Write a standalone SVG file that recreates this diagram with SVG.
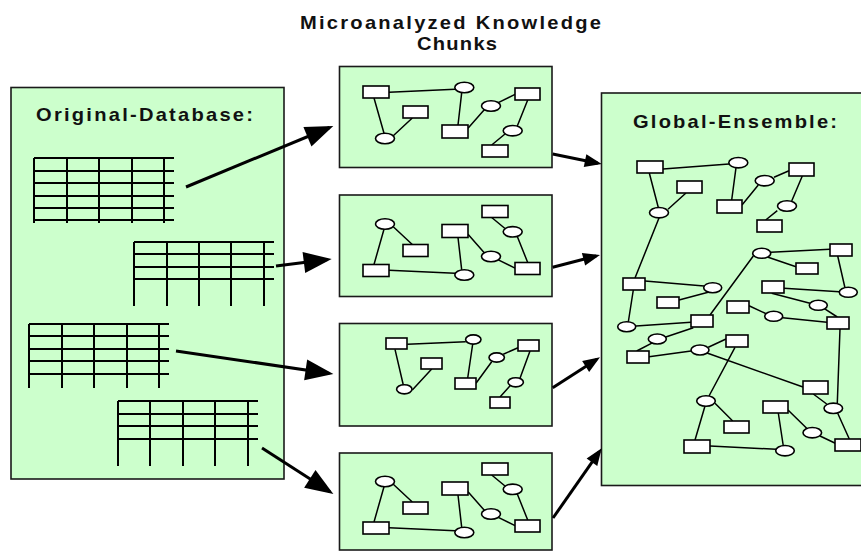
<svg xmlns="http://www.w3.org/2000/svg" xmlns:xlink="http://www.w3.org/1999/xlink" width="861" height="552" viewBox="0 0 861 552">
  <style>
    .box { fill: #ccffcc; stroke: #1a1a1a; stroke-width: 1.6; }
    .title { font-family: "Liberation Sans", Arial, sans-serif; font-weight: bold; font-size: 17.5px; fill: #111; }
    .grid { stroke: #000; stroke-width: 2; fill: none; }
    .edge { stroke: #000; stroke-width: 1.5; fill: none; }
    .rn { fill: #fff; stroke: #000; stroke-width: 1.6; }
    .en { fill: #fff; stroke: #000; stroke-width: 1.6; }
    .arrow { stroke: #000; stroke-width: 3; fill: none; }
  </style>
  <defs>
    <marker id="headBig" markerUnits="userSpaceOnUse" markerWidth="30" markerHeight="24" refX="24" refY="10.5" orient="auto" overflow="visible">
      <path d="M0,0 L28,10.5 L0,21 z" fill="#000"/>
    </marker>
    <marker id="headSmall" markerUnits="userSpaceOnUse" markerWidth="20" markerHeight="16" refX="13" refY="6.5" orient="auto" overflow="visible">
      <path d="M0,0 L17,6.5 L0,13 z" fill="#000"/>
    </marker>
    <!-- small knowledge network used by chunks 1, 2 and 4 -->
    <g id="net">
      <path class="edge" d="M389,92.3 L455,89.3 M374,98 L384,133.3 M393,136 L412.3,118 M461.7,92.7 L458,125 M468,128.3 L484.7,109.3 M498.3,102.7 L515,94.3 M527.7,100 L517.3,126 M505,134 L491.7,145"/>
      <rect class="rn" x="363" y="86" width="26" height="12"/>
      <rect class="rn" x="403" y="106" width="25" height="12"/>
      <rect class="rn" x="442" y="125" width="26" height="13"/>
      <rect class="rn" x="515" y="88" width="25" height="12"/>
      <rect class="rn" x="482" y="145" width="26" height="12"/>
      <ellipse class="en" cx="464.3" cy="87.5" rx="9.5" ry="5.2"/>
      <ellipse class="en" cx="385" cy="138.5" rx="9.5" ry="5.2"/>
      <ellipse class="en" cx="491" cy="106" rx="9.5" ry="5.2"/>
      <ellipse class="en" cx="512.7" cy="130.7" rx="9.5" ry="5.2"/>
    </g>
  </defs>

  <rect width="861" height="552" fill="#fff"/>

  <!-- heading over the chunk column (slightly widened lettering) -->
  <text class="title" transform="translate(300 29) scale(1.15 1)" textLength="261.7" lengthAdjust="spacing">Microanalyzed Knowledge</text>
  <text class="title" transform="translate(417 50) scale(1.15 1)" textLength="69.6" lengthAdjust="spacing">Chunks</text>

  <!-- source database with four tables -->
  <g id="database">
    <rect class="box" x="11" y="87.5" width="273" height="391.5"/>
    <text class="title" transform="translate(36 120.5) scale(1.15 1)" textLength="188.7" lengthAdjust="spacing">Original-Database:</text>
    <path class="grid" d="M34,158 H174 M34,171 H174 M34,183 H174 M34,196 H174 M34,208 H174 M34,220 H174 M34,158 V223 M67,158 V223 M99,158 V223 M132,158 V223 M164,158 V223"/>
    <path class="grid" d="M134,242 H274 M134,254 H274 M134,267 H274 M134,279 H274 M134,242 V306 M167,242 V306 M199,242 V306 M231,242 V306 M264,242 V306"/>
    <path class="grid" d="M29,324 H169 M29,336 H169 M29,349 H169 M29,361 H169 M29,374 H169 M29,324 V388 M62,324 V388 M94,324 V388 M127,324 V388 M159,324 V388"/>
    <path class="grid" d="M118,401 H258 M118,414 H258 M118,426 H258 M118,439 H258 M118,401 V466 M150,401 V466 M183,401 V466 M215,401 V466 M248,401 V466"/>
  </g>

  <!-- knowledge chunks -->
  <g id="chunk1">
    <rect class="box" x="339.5" y="66.5" width="212.5" height="101"/>
    <use xlink:href="#net" href="#net"/>
  </g>
  <g id="chunk2">
    <rect class="box" x="339.5" y="195" width="212.5" height="101.5"/>
    <use xlink:href="#net" href="#net" transform="matrix(1 0 0 -1 0 362.5)"/>
  </g>
  <g id="chunk3">
    <rect class="box" x="339.5" y="323.5" width="212.5" height="102.5"/>
    <path class="edge" d="M395,349.3 L403.3,385 M412.3,390 L431.7,369 M407.3,344.3 L465.7,341.7 M472.7,344 L467.7,378 M476,383.3 L491.7,361.7 M503.3,354.3 L518,347.7 M530,351 L520,378.3 M510.7,385 L500,397"/>
    <rect class="rn" x="386" y="338" width="21" height="11"/>
    <rect class="rn" x="421" y="358" width="21" height="11"/>
    <rect class="rn" x="455" y="378" width="21" height="11"/>
    <rect class="rn" x="518" y="340" width="21" height="11"/>
    <rect class="rn" x="490" y="397" width="20" height="11"/>
    <ellipse class="en" cx="473.3" cy="339.5" rx="7.7" ry="4.6"/>
    <ellipse class="en" cx="404.3" cy="389.3" rx="7.7" ry="4.6"/>
    <ellipse class="en" cx="496.7" cy="357.5" rx="7.7" ry="4.6"/>
    <ellipse class="en" cx="515.7" cy="382.3" rx="7.7" ry="4.6"/>
  </g>
  <g id="chunk4">
    <rect class="box" x="339.5" y="453" width="212.5" height="97"/>
    <use xlink:href="#net" href="#net" transform="matrix(1 0 0 -1 0 620)"/>
  </g>

  <!-- merged ensemble -->
  <g id="global-ensemble">
    <rect class="box" x="601.5" y="93" width="270" height="392.5"/>
    <text class="title" transform="translate(633 127.5) scale(1.15 1)" textLength="177.4" lengthAdjust="spacing">Global-Ensemble:</text>
    <path class="edge" d="M663,169 L729,164 M649.3,173 L658.3,207.5 M668,209.3 L686,193 M736,167.7 L731.7,200 M742,205 L758.3,185 M774,177.3 L789,170.7 M802.3,176 L791.7,201 M777.3,210.7 L765.7,220 M659,218 L635,278
      M770.7,252.3 L830,249.3 M766.7,256.7 L796,266.7 M837.7,256 L845,288 M784,288.3 L839.3,291.7 M771.7,293.3 L810,303.3 M824,308.3 L837.3,317 M749,305.7 L766.7,314 M782.7,317.7 L827,322.3 M840,329 L837.3,403 M753.3,256 L710,315
      M645,281 L704,286 M679,300 L710,291.7 M633.3,290 L628.3,322 M636,326 L691,322.3 M693.3,327.7 L665,337.3 M653.3,342.3 L636.7,351 M649,356.7 L691,351 M708.3,347.3 L726,339 M735,347.3 L709,396 M707,353 L803,387
      M715,403.3 L732.7,421 M705,406 L695,440 M710,446 L776,449.3 M778.3,413 L783.3,446 M788,410 L806.7,428.3 M820,436 L835.3,443.3 M837.7,413.3 L849.3,439 M813.3,394 L826.7,404"/>
    <rect class="rn" x="637" y="161" width="26" height="12"/>
    <rect class="rn" x="677" y="181" width="25" height="12"/>
    <rect class="rn" x="717" y="200" width="25" height="13"/>
    <rect class="rn" x="789" y="163" width="25" height="13"/>
    <rect class="rn" x="757" y="220" width="25" height="12"/>
    <rect class="rn" x="830" y="244" width="22" height="12"/>
    <rect class="rn" x="796" y="263" width="22" height="11"/>
    <rect class="rn" x="762" y="281" width="22" height="12"/>
    <rect class="rn" x="727" y="301" width="22" height="12"/>
    <rect class="rn" x="827" y="317" width="22" height="12"/>
    <rect class="rn" x="623" y="278" width="22" height="12"/>
    <rect class="rn" x="657" y="297" width="22" height="11"/>
    <rect class="rn" x="691" y="315" width="22" height="12"/>
    <rect class="rn" x="627" y="351" width="22" height="12"/>
    <rect class="rn" x="726" y="335" width="22" height="12"/>
    <rect class="rn" x="724" y="421" width="25" height="12"/>
    <rect class="rn" x="684" y="440" width="26" height="13"/>
    <rect class="rn" x="763" y="401" width="25" height="12"/>
    <rect class="rn" x="835" y="439" width="26" height="12"/>
    <rect class="rn" x="803" y="381" width="25" height="13"/>
    <ellipse class="en" cx="738.3" cy="162.7" rx="9.5" ry="5.2"/>
    <ellipse class="en" cx="659" cy="212.7" rx="9.5" ry="5.2"/>
    <ellipse class="en" cx="764.7" cy="180.7" rx="9.5" ry="5.2"/>
    <ellipse class="en" cx="787" cy="206" rx="9.5" ry="5.2"/>
    <ellipse class="en" cx="761.7" cy="253.3" rx="9" ry="5"/>
    <ellipse class="en" cx="848.3" cy="292.3" rx="9" ry="5"/>
    <ellipse class="en" cx="818.3" cy="305.3" rx="9" ry="5"/>
    <ellipse class="en" cx="773.7" cy="316.3" rx="9" ry="5"/>
    <ellipse class="en" cx="712.7" cy="287.7" rx="9" ry="5"/>
    <ellipse class="en" cx="626.7" cy="326.7" rx="9" ry="5"/>
    <ellipse class="en" cx="657.3" cy="339" rx="9" ry="5"/>
    <ellipse class="en" cx="700" cy="350" rx="9" ry="5"/>
    <ellipse class="en" cx="706" cy="401" rx="9.3" ry="5.2"/>
    <ellipse class="en" cx="785" cy="450.7" rx="9.3" ry="5.2"/>
    <ellipse class="en" cx="812.3" cy="432.7" rx="9.3" ry="5.2"/>
    <ellipse class="en" cx="833.3" cy="408.3" rx="9.3" ry="5.2"/>
  </g>

  <!-- flow arrows: tables to chunks, chunks to ensemble -->
  <g id="connectors">
    <line class="arrow" x1="186" y1="187" x2="329.6" y2="127.5" marker-end="url(#headBig)"/>
    <line class="arrow" x1="276" y1="266" x2="327.7" y2="259.5" marker-end="url(#headBig)"/>
    <line class="arrow" x1="176" y1="351" x2="329.4" y2="373.4" marker-end="url(#headBig)"/>
    <line class="arrow" x1="262" y1="448" x2="330" y2="491.8" marker-end="url(#headBig)"/>
    <line class="arrow" x1="552.7" y1="154" x2="597.8" y2="163.2" marker-end="url(#headSmall)"/>
    <line class="arrow" x1="552.7" y1="267.3" x2="596.1" y2="256" marker-end="url(#headSmall)"/>
    <line class="arrow" x1="552.7" y1="387.7" x2="596.6" y2="359.5" marker-end="url(#headSmall)"/>
    <line class="arrow" x1="553" y1="518" x2="599.4" y2="451.6" marker-end="url(#headSmall)"/>
  </g>
</svg>
